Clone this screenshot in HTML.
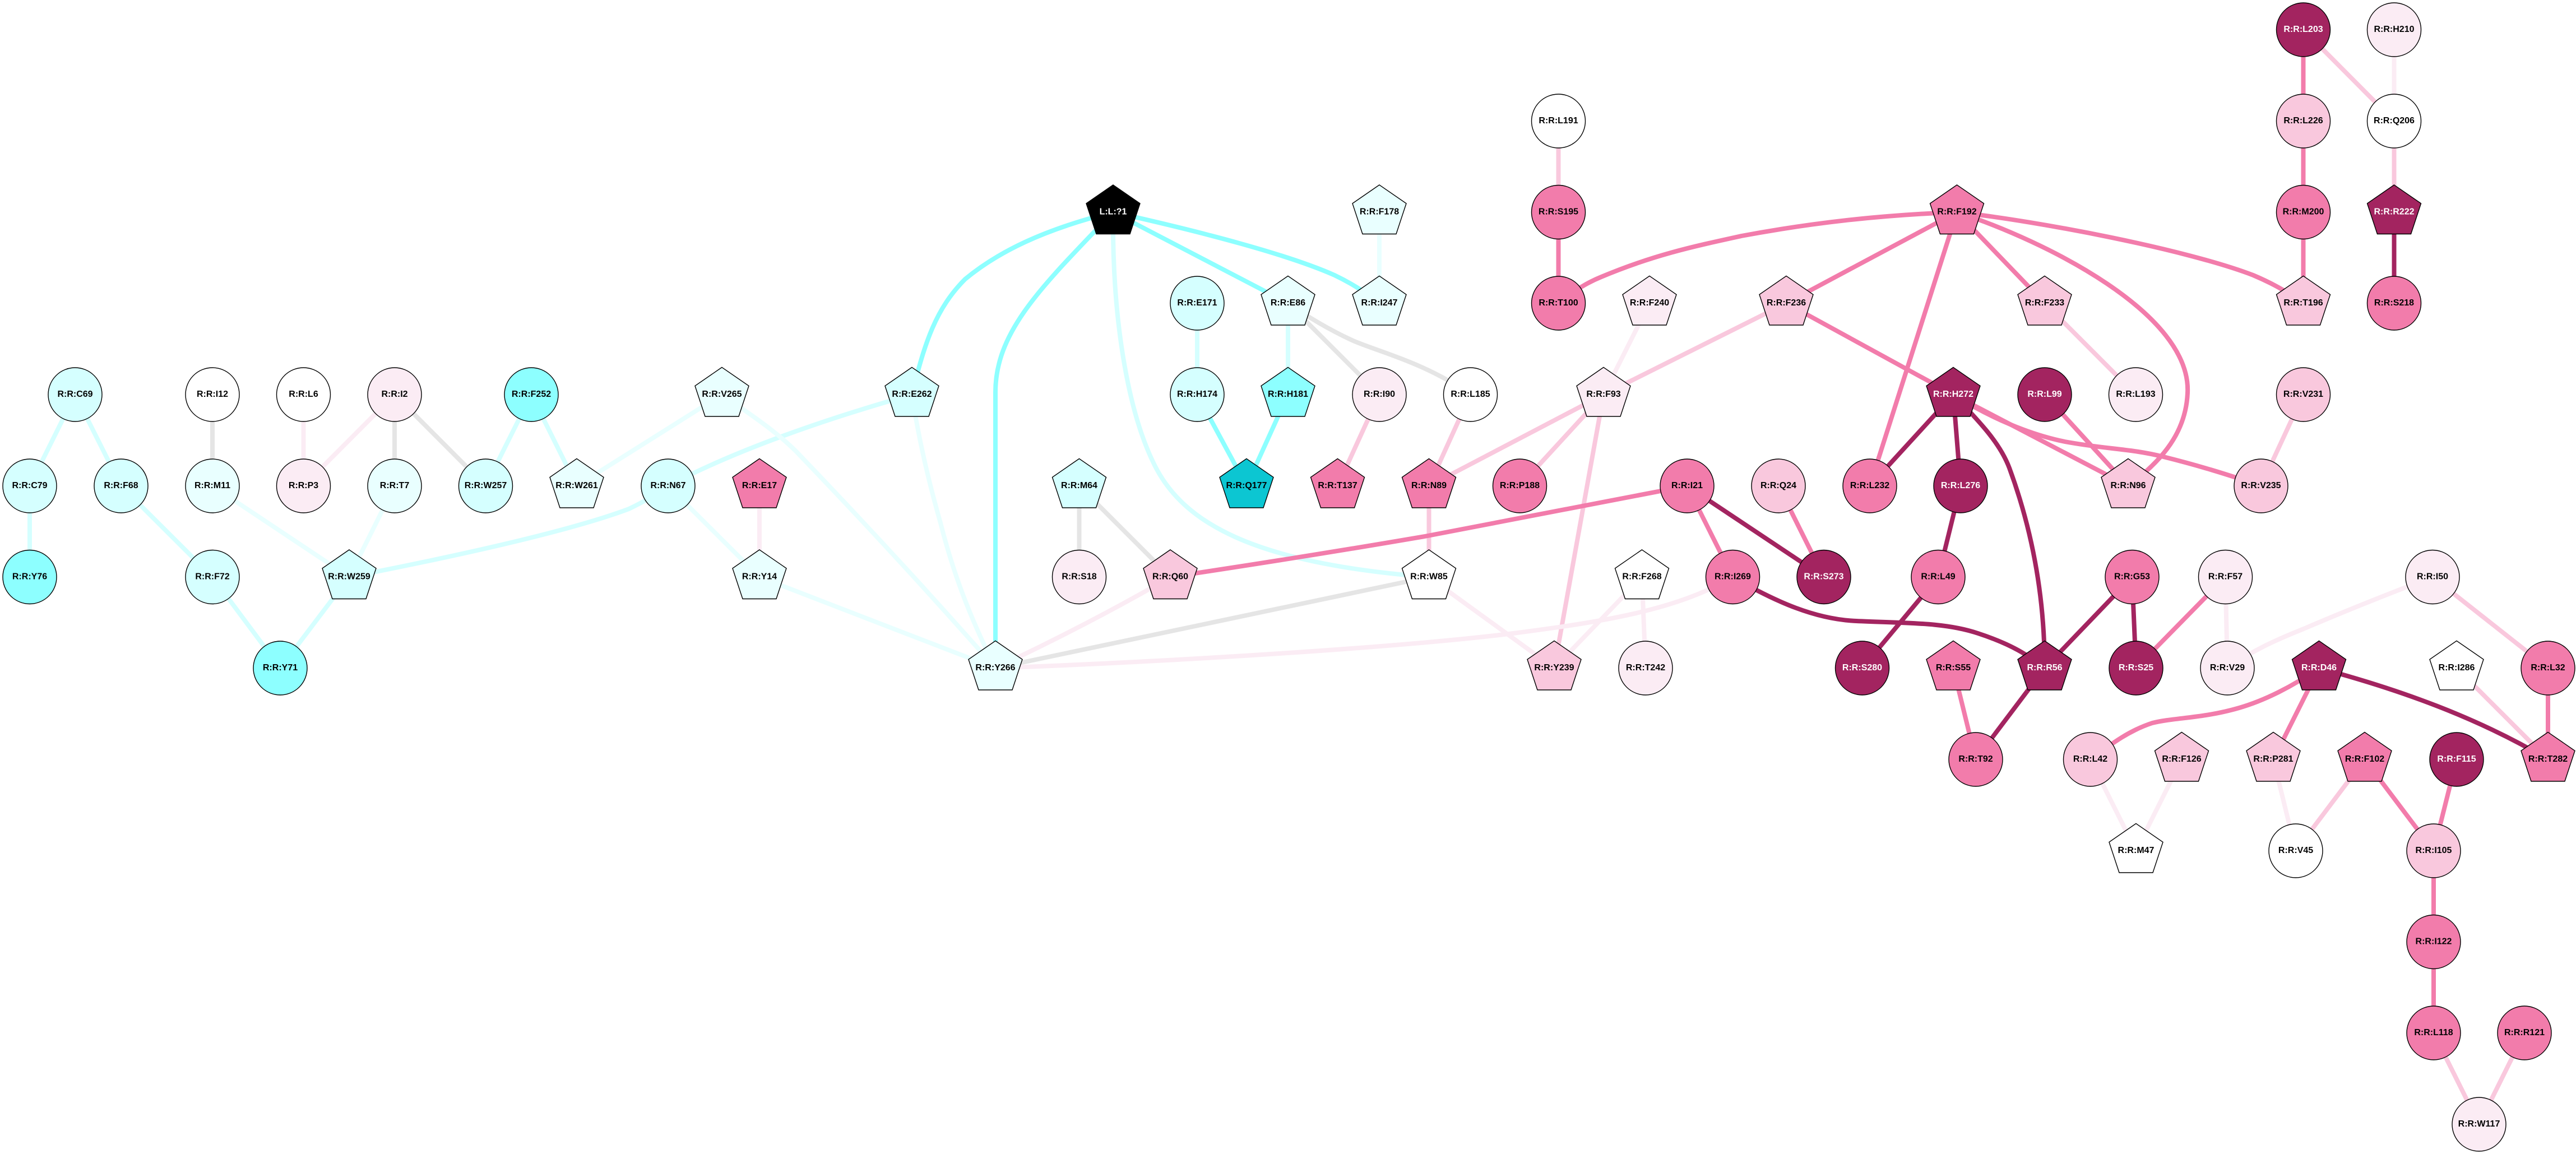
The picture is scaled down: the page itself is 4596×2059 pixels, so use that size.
<!DOCTYPE html>
<html><head><meta charset="utf-8"><title>Residue network</title>
<style>
html,body{margin:0;padding:0;background:#fff}
svg{display:block}
.e path{fill:none;stroke-width:8}
.e .w{stroke:#fff}.e .g{stroke:#e5e5e5}.e .v{stroke:#fbecf4}.e .l{stroke:#f9c8dd}.e .p{stroke:#f27cab}.e .d{stroke:#a32460}.e .a{stroke:#e9ffff}.e .b{stroke:#d5ffff}.e .c{stroke:#8dffff}
.n circle,.n use{stroke:#000;stroke-width:1.4}
.n .w{fill:#fff}.n .v{fill:#fbecf4}.n .l{fill:#f9c8dd}.n .p{fill:#f27cab}.n .d{fill:#a32460}.n .a{fill:#e9ffff}.n .b{fill:#d5ffff}.n .c{fill:#8dffff}.n .t{fill:#0cc6d2}.n .k{fill:#000}
text{font-family:"Liberation Sans",sans-serif;font-weight:bold;font-size:16px;text-anchor:middle;fill:#000;transform:translateY(-.3px)}
text.x{fill:#fff}
</style></head><body>
<svg xmlns="http://www.w3.org/2000/svg" width="4596" height="2059" viewBox="0 0 4596 2059">
<defs><polygon id="q" points="0,-48.6 48,-15.5 30,39 -30,39 -48,-15.5"/></defs>
<rect width="4596" height="2059" fill="#fff"/>
<g class="e">
<path class="b" d="M134 704L53 867"/>
<path class="b" d="M134 704L216 867"/>
<path class="b" d="M53 867L53 1029.5"/>
<path class="b" d="M216 867L379 1029.5"/>
<path class="b" d="M379 1029.5L500 1192"/>
<path class="b" d="M623 1029.5L500 1192"/>
<path class="g" d="M379 704L379 867"/>
<path class="v" d="M541.5 704L541.5 867"/>
<path class="v" d="M704 704L541.5 867"/>
<path class="g" d="M704 704L704 867"/>
<path class="g" d="M704 704L866.5 867"/>
<path class="b" d="M948 704L866.5 867"/>
<path class="b" d="M948 704L1029 867"/>
<path class="a" d="M379 867L623 1029.5"/>
<path class="a" d="M704 867L623 1029.5"/>
<path class="a" d="M1288 704L1029 867"/>
<path class="b" d="M623 1029.5C800 995 1010 950 1122 908Q1160 890 1192 867"/>
<path class="b" d="M1192 867C1290 815 1430 760 1627 704"/>
<path class="a" d="M1192 867L1355 1029.5"/>
<path class="v" d="M1355 867L1355 1029.5"/>
<path class="a" d="M1355 1029.5L1776 1192"/>
<path class="a" d="M1288 704C1340 740 1385 770 1421 806C1540 930 1660 1060 1776 1192"/>
<path class="a" d="M1627 704C1640 790 1660 870 1678 933C1705 1040 1740 1120 1776 1192"/>
<path class="c" d="M1986 378.500C1860 410 1780 450 1722 498C1670 550 1650 610 1627 704"/>
<path class="c" d="M1986 378.500C1860 510 1776 590 1776 700L1776 1192"/>
<path class="b" d="M1986 378.500C1984 560 2010 730 2060 830C2110 930 2230 1005 2549 1029.500"/>
<path class="c" d="M1986 378.500L2298 541"/>
<path class="c" d="M1986 378.500C2150 415 2300 455 2381 491Q2425 512 2461 541"/>
<path class="b" d="M2136 541L2136 704"/>
<path class="c" d="M2136 704L2224 867"/>
<path class="c" d="M2298 704L2224 867"/>
<path class="b" d="M2298 541L2298 704"/>
<path class="a" d="M2461 378.500L2461 541"/>
<path class="g" d="M2298 541L2461 704"/>
<path class="g" d="M2298 541C2340 570 2380 592 2410 606C2450 625 2540 645 2623.500 704"/>
<path class="l" d="M2461 704L2386.500 867"/>
<path class="l" d="M2623.500 704L2549.500 867"/>
<path class="l" d="M2549.500 867L2549.500 1029.500"/>
<path class="l" d="M2861 704L2549.500 867"/>
<path class="l" d="M2861 704L2711.500 867"/>
<path class="l" d="M2861 704L2773 1192"/>
<path class="v" d="M2943 541L2861 704"/>
<path class="l" d="M3187 541L2861 704"/>
<path class="p" d="M3187 541L3491.500 378.500"/>
<path class="p" d="M3187 541L3485 704"/>
<path class="l" d="M2780.500 216L2780.500 378.500"/>
<path class="p" d="M2780.500 378.500L2780.500 541"/>
<path class="p" d="M2780.500 541C2810 518 2830 505 2857 494C2950 455 3020 440 3107 421C3230 398 3350 384 3491.500 378.500"/>
<path class="p" d="M3491.500 378.500L3336 867"/>
<path class="d" d="M3485 704L3336 867"/>
<path class="p" d="M3010 867L2542 957Q2320 995 2088 1029.500"/>
<path class="d" d="M3010 867L3254 1029.500"/>
<path class="p" d="M3010 867L3091.500 1029.500"/>
<path class="p" d="M3173 867L3254 1029.500"/>
<path class="g" d="M1925.500 867L1925.500 1029.500"/>
<path class="g" d="M1925.500 867L2088 1029.500"/>
<path class="v" d="M2088 1029.500Q1950 1110 1776 1192"/>
<path class="g" d="M2549 1029.500L1776 1192"/>
<path class="v" d="M1776 1192C2100 1180 2500 1155 2700 1130C2853 1110 2990 1090 3091.500 1029.500"/>
<path class="v" d="M2549 1029.500L2773 1192"/>
<path class="v" d="M2929.500 1029.500L2773 1192"/>
<path class="v" d="M2929.500 1029.500L2936 1192"/>
<path class="d" d="M3091.500 1029.500C3170 1075 3240 1105 3312 1108C3400 1112 3470 1110 3529 1130C3590 1150 3620 1170 3648 1192"/>
<path class="d" d="M3458 1029.500L3322.500 1192"/>
<path class="d" d="M3498 867L3458 1029.500"/>
<path class="d" d="M3485 704L3498 867"/>
<path class="d" d="M3485 704C3540 760 3570 795 3585 835C3620 930 3648 1050 3648 1192"/>
<path class="p" d="M3485 704L3797 867"/>
<path class="p" d="M3485 704C3550 745 3620 775 3684 788C3760 802 3800 800 3860 815C3920 830 3970 845 4034 867"/>
<path class="p" d="M3648 704L3797 867"/>
<path class="p" d="M3491.500 378.500C3650 430 3910 560 3903 701C3900 770 3860 820 3797 867"/>
<path class="p" d="M3491.500 378.500C3640 395 3900 445 4020 491Q4070 512 4109.500 541"/>
<path class="p" d="M3491.500 378.500L3648 541"/>
<path class="l" d="M3648 541L3810.500 704"/>
<path class="l" d="M4109.500 704L4034 867"/>
<path class="p" d="M4109.500 53L4109.500 216"/>
<path class="l" d="M4109.500 53L4271.500 216"/>
<path class="v" d="M4271.500 53L4271.500 216"/>
<path class="l" d="M4271.500 216L4271.500 378.500"/>
<path class="p" d="M4109.500 216L4109.500 378.500"/>
<path class="p" d="M4109.500 378.500L4109.500 541"/>
<path class="d" d="M4271.500 378.500L4271.500 541"/>
<path class="p" d="M3485 1192L3525 1355"/>
<path class="d" d="M3648 1192L3525 1355"/>
<path class="d" d="M3804 1029.500L3648 1192"/>
<path class="d" d="M3804 1029.500L3811 1192"/>
<path class="p" d="M3970.500 1029.500L3811 1192"/>
<path class="v" d="M3970.500 1029.500L3974 1192"/>
<path class="v" d="M4340 1029.500C4260 1060 4180 1092 4110 1122C4060 1142 4020 1160 3974 1192"/>
<path class="l" d="M4340 1029.500L4546 1192"/>
<path class="p" d="M4546 1192L4546 1355"/>
<path class="l" d="M4383 1192L4546 1355"/>
<path class="d" d="M4137.500 1192C4280 1230 4420 1280 4546 1355"/>
<path class="p" d="M4137.500 1192C4090 1225 4040 1250 3995 1263C3930 1282 3880 1280 3840 1290C3800 1303 3770 1325 3729.500 1355"/>
<path class="p" d="M4137.500 1192L4056 1355"/>
<path class="v" d="M3729.500 1355L3811 1518"/>
<path class="v" d="M3892.500 1355L3811 1518"/>
<path class="v" d="M4056 1355L4096 1518"/>
<path class="l" d="M4219 1355L4096 1518"/>
<path class="p" d="M4219 1355L4342 1518"/>
<path class="p" d="M4383 1355L4342 1518"/>
<path class="p" d="M4342 1518L4342 1680.500"/>
<path class="p" d="M4342 1680.500L4342 1843"/>
<path class="l" d="M4342 1843L4423 2006"/>
<path class="l" d="M4504 1843L4423 2006"/>
</g>
<g class="n">
<circle class="b" cx="134" cy="704" r="48"/><text x="134" y="708.5">R:R:C69</text>
<circle class="b" cx="53" cy="867" r="48"/><text x="53" y="871.5">R:R:C79</text>
<circle class="b" cx="216" cy="867" r="48"/><text x="216" y="871.5">R:R:F68</text>
<circle class="w" cx="379" cy="704" r="48"/><text x="379" y="708.5">R:R:I12</text>
<circle class="w" cx="541.5" cy="704" r="48"/><text x="541.5" y="708.5">R:R:L6</text>
<circle class="v" cx="704" cy="704" r="48"/><text x="704" y="708.5">R:R:I2</text>
<circle class="c" cx="948" cy="704" r="48"/><text x="948" y="708.5">R:R:F252</text>
<circle class="a" cx="379" cy="867" r="48"/><text x="379" y="871.5">R:R:M11</text>
<circle class="v" cx="541.5" cy="867" r="48"/><text x="541.5" y="871.5">R:R:P3</text>
<circle class="a" cx="704" cy="867" r="48"/><text x="704" y="871.5">R:R:T7</text>
<circle class="b" cx="866.5" cy="867" r="48"/><text x="866.5" y="871.5">R:R:W257</text>
<use class="a" href="#q" x="1029" y="867"/><text x="1029" y="871.5">R:R:W261</text>
<circle class="c" cx="53" cy="1029.5" r="48"/><text x="53" y="1034">R:R:Y76</text>
<circle class="b" cx="379" cy="1029.5" r="48"/><text x="379" y="1034">R:R:F72</text>
<use class="b" href="#q" x="623" y="1029.5"/><text x="623" y="1034">R:R:W259</text>
<circle class="c" cx="500" cy="1192" r="48"/><text x="500" y="1196.500">R:R:Y71</text>
<use class="k" href="#q" x="1986" y="378.5"/><text class="x" x="1986" y="383">L:L:?1</text>
<circle class="b" cx="2136" cy="541" r="48"/><text x="2136" y="545.5">R:R:E171</text>
<use class="a" href="#q" x="2298" y="541"/><text x="2298" y="545.5">R:R:E86</text>
<circle class="b" cx="2136" cy="704" r="48"/><text x="2136" y="708.5">R:R:H174</text>
<use class="c" href="#q" x="2298" y="704"/><text x="2298" y="708.5">R:R:H181</text>
<use class="a" href="#q" x="1288" y="704"/><text x="1288" y="708.5">R:R:V265</text>
<use class="b" href="#q" x="1627" y="704"/><text x="1627" y="708.5">R:R:E262</text>
<circle class="b" cx="1192" cy="867" r="48"/><text x="1192" y="871.5">R:R:N67</text>
<use class="p" href="#q" x="1355" y="867"/><text x="1355" y="871.5">R:R:E17</text>
<use class="b" href="#q" x="1925.5" y="867"/><text x="1925.5" y="871.5">R:R:M64</text>
<use class="t" href="#q" x="2224" y="867"/><text x="2224" y="871.5">R:R:Q177</text>
<use class="a" href="#q" x="1355" y="1029.5"/><text x="1355" y="1034">R:R:Y14</text>
<circle class="v" cx="1925.5" cy="1029.5" r="48"/><text x="1925.5" y="1034">R:R:S18</text>
<use class="l" href="#q" x="2088" y="1029.5"/><text x="2088" y="1034">R:R:Q60</text>
<use class="a" href="#q" x="1776" y="1192"/><text x="1776" y="1196.5">R:R:Y266</text>
<use class="w" href="#q" x="2549.5" y="1029.5"/><text x="2549.5" y="1034">R:R:W85</text>
<circle class="w" cx="2780.5" cy="216" r="48"/><text x="2780.5" y="220.5">R:R:L191</text>
<circle class="p" cx="2780.5" cy="378.5" r="48"/><text x="2780.5" y="383">R:R:S195</text>
<circle class="p" cx="2780.5" cy="541" r="48"/><text x="2780.5" y="545.5">R:R:T100</text>
<use class="a" href="#q" x="2461" y="378.5"/><text x="2461" y="383">R:R:F178</text>
<use class="a" href="#q" x="2461" y="541"/><text x="2461" y="545.5">R:R:I247</text>
<use class="v" href="#q" x="2943" y="541"/><text x="2943" y="545.5">R:R:F240</text>
<use class="l" href="#q" x="3187" y="541"/><text x="3187" y="545.5">R:R:F236</text>
<circle class="v" cx="2461" cy="704" r="48"/><text x="2461" y="708.5">R:R:I90</text>
<circle class="w" cx="2623.5" cy="704" r="48"/><text x="2623.5" y="708.5">R:R:L185</text>
<use class="v" href="#q" x="2861" y="704"/><text x="2861" y="708.5">R:R:F93</text>
<use class="p" href="#q" x="2386.5" y="867"/><text x="2386.5" y="871.5">R:R:T137</text>
<use class="p" href="#q" x="2549.5" y="867"/><text x="2549.5" y="871.5">R:R:N89</text>
<circle class="p" cx="2711.5" cy="867" r="48"/><text x="2711.5" y="871.5">R:R:P188</text>
<circle class="p" cx="3010" cy="867" r="48"/><text x="3010" y="871.5">R:R:I21</text>
<circle class="l" cx="3173" cy="867" r="48"/><text x="3173" y="871.5">R:R:Q24</text>
<circle class="p" cx="3336" cy="867" r="48"/><text x="3336" y="871.5">R:R:L232</text>
<use class="p" href="#q" x="3491.5" y="378.5"/><text x="3491.5" y="383">R:R:F192</text>
<circle class="d" cx="4109.5" cy="53" r="48"/><text class="x" x="4109.5" y="57.5">R:R:L203</text>
<circle class="v" cx="4271.5" cy="53" r="48"/><text x="4271.5" y="57.5">R:R:H210</text>
<circle class="l" cx="4109.5" cy="216" r="48"/><text x="4109.5" y="220.5">R:R:L226</text>
<circle class="w" cx="4271.5" cy="216" r="48"/><text x="4271.5" y="220.5">R:R:Q206</text>
<circle class="p" cx="4109.5" cy="378.5" r="48"/><text x="4109.5" y="383">R:R:M200</text>
<use class="d" href="#q" x="4271.5" y="378.5"/><text class="x" x="4271.5" y="383">R:R:R222</text>
<use class="l" href="#q" x="3648" y="541"/><text x="3648" y="545.5">R:R:F233</text>
<use class="l" href="#q" x="4109.5" y="541"/><text x="4109.5" y="545.5">R:R:T196</text>
<circle class="p" cx="4271.5" cy="541" r="48"/><text x="4271.5" y="545.5">R:R:S218</text>
<use class="d" href="#q" x="3485" y="704"/><text class="x" x="3485" y="708.5">R:R:H272</text>
<circle class="d" cx="3648" cy="704" r="48"/><text class="x" x="3648" y="708.5">R:R:L99</text>
<circle class="v" cx="3810.5" cy="704" r="48"/><text x="3810.5" y="708.5">R:R:L193</text>
<circle class="l" cx="4109.5" cy="704" r="48"/><text x="4109.5" y="708.5">R:R:V231</text>
<circle class="d" cx="3498" cy="867" r="48"/><text class="x" x="3498" y="871.5">R:R:L276</text>
<use class="l" href="#q" x="3797" y="867"/><text x="3797" y="871.5">R:R:N96</text>
<circle class="l" cx="4034" cy="867" r="48"/><text x="4034" y="871.5">R:R:V235</text>
<use class="w" href="#q" x="2929.5" y="1029.5"/><text x="2929.5" y="1034">R:R:F268</text>
<circle class="p" cx="3091.5" cy="1029.5" r="48"/><text x="3091.5" y="1034">R:R:I269</text>
<circle class="d" cx="3254" cy="1029.5" r="48"/><text class="x" x="3254" y="1034">R:R:S273</text>
<circle class="p" cx="3458" cy="1029.5" r="48"/><text x="3458" y="1034">R:R:L49</text>
<use class="l" href="#q" x="2773" y="1192"/><text x="2773" y="1196.5">R:R:Y239</text>
<circle class="v" cx="2936" cy="1192" r="48"/><text x="2936" y="1196.5">R:R:T242</text>
<circle class="d" cx="3322.5" cy="1192" r="48"/><text class="x" x="3322.5" y="1196.5">R:R:S280</text>
<use class="p" href="#q" x="3485" y="1192"/><text x="3485" y="1196.5">R:R:S55</text>
<use class="d" href="#q" x="3648" y="1192"/><text class="x" x="3648" y="1196.5">R:R:R56</text>
<circle class="p" cx="3525" cy="1355" r="48"/><text x="3525" y="1359.5">R:R:T92</text>
<circle class="p" cx="3804" cy="1029.5" r="48"/><text x="3804" y="1034">R:R:G53</text>
<circle class="v" cx="3970.5" cy="1029.5" r="48"/><text x="3970.5" y="1034">R:R:F57</text>
<circle class="v" cx="4340" cy="1029.5" r="48"/><text x="4340" y="1034">R:R:I50</text>
<circle class="d" cx="3811" cy="1192" r="48"/><text class="x" x="3811" y="1196.5">R:R:S25</text>
<circle class="v" cx="3974" cy="1192" r="48"/><text x="3974" y="1196.5">R:R:V29</text>
<use class="d" href="#q" x="4137.5" y="1192"/><text class="x" x="4137.5" y="1196.5">R:R:D46</text>
<use class="w" href="#q" x="4383" y="1192"/><text x="4383" y="1196.5">R:R:I286</text>
<circle class="p" cx="4546" cy="1192" r="48"/><text x="4546" y="1196.5">R:R:L32</text>
<circle class="l" cx="3729.5" cy="1355" r="48"/><text x="3729.5" y="1359.5">R:R:L42</text>
<use class="l" href="#q" x="3892.5" y="1355"/><text x="3892.5" y="1359.5">R:R:F126</text>
<use class="l" href="#q" x="4056" y="1355"/><text x="4056" y="1359.5">R:R:P281</text>
<use class="p" href="#q" x="4219" y="1355"/><text x="4219" y="1359.5">R:R:F102</text>
<circle class="d" cx="4383" cy="1355" r="48"/><text class="x" x="4383" y="1359.5">R:R:F115</text>
<use class="p" href="#q" x="4546" y="1355"/><text x="4546" y="1359.5">R:R:T282</text>
<use class="w" href="#q" x="3811" y="1518"/><text x="3811" y="1522.5">R:R:M47</text>
<circle class="w" cx="4096" cy="1518" r="48"/><text x="4096" y="1522.5">R:R:V45</text>
<circle class="l" cx="4342" cy="1518" r="48"/><text x="4342" y="1522.5">R:R:I105</text>
<circle class="p" cx="4342" cy="1680.5" r="48"/><text x="4342" y="1685">R:R:I122</text>
<circle class="p" cx="4342" cy="1843" r="48"/><text x="4342" y="1847.5">R:R:L118</text>
<circle class="p" cx="4504" cy="1843" r="48"/><text x="4504" y="1847.5">R:R:R121</text>
<circle class="v" cx="4423" cy="2006" r="48"/><text x="4423" y="2010.5">R:R:W117</text>
</g>
</svg>
</body></html>
